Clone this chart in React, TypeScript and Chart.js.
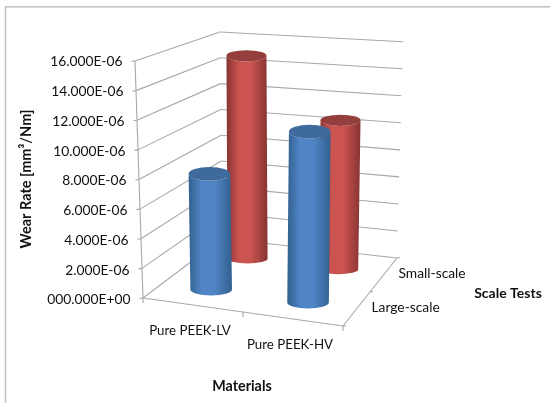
import React, { useEffect, useRef } from "react";
import { Chart, registerables } from "chart.js";

Chart.register(...registerables);

const materials = ["Pure PEEK-LV", "Pure PEEK-HV"];
const scaleTests = ["Large-scale", "Small-scale"];
const largeScale = [8.0e-6, 11.6e-6];
const smallScale = [15.0e-6, 10.8e-6];
const tickLabels = [
  "000.000E+00", "2.000E-06", "4.000E-06", "6.000E-06", "8.000E-06",
  "10.000E-06", "12.000E-06", "14.000E-06", "16.000E-06",
];
const yTitle = "Wear Rate [mm\u00B3/Nm]";
const xTitle = "Materials";
const zTitle = "Scale Tests";

const FONT = "Lato, Carlito, sans-serif";
type P = [number, number];
const lerp = (a: number, b: number, t: number) => a + (b - a) * t;
const lp = (a: P, b: P, t: number): P => [lerp(a[0], b[0], t), lerp(a[1], b[1], t)];
// box corners on the page: f=front, b=back, l=left, r=right
const FLB: P = [143, 298], FRB: P = [343, 326], BRB: P = [397, 258], BLB: P = [222, 238.5];
const FLT: P = [135, 61], FRT: P = [348, 81], BRT: P = [403, 41.7], BLT: P = [220, 32];
const proj = (u: number, v: number, w: number): P => {
  const bot = lp(lp(FLB, FRB, u), lp(BLB, BRB, u), w);
  const top = lp(lp(FLT, FRT, u), lp(BLT, BRT, u), w);
  return lp(bot, top, v);
};

const shades: Record<string, { edge: string; mid: string; top: string }> = {
  "#4F81BD": { edge: "#32608f", mid: "#5085c5", top: "#3f6a9c" },
  "#C0504D": { edge: "#863432", mid: "#cb5350", top: "#943f3d" },
};

function line(ctx: CanvasRenderingContext2D, a: P, b: P) {
  ctx.beginPath();
  ctx.moveTo(a[0], a[1]);
  ctx.lineTo(b[0], b[1]);
  ctx.stroke();
}

function text(ctx: CanvasRenderingContext2D, s: string, x: number, y: number, font: string, align: CanvasTextAlign, rot = 0) {
  ctx.save();
  ctx.translate(x, y);
  ctx.rotate(rot);
  ctx.font = font;
  ctx.fillStyle = "#111111";
  ctx.textAlign = align;
  ctx.textBaseline = "middle";
  ctx.fillText(s, 0, 0);
  ctx.restore();
}

function cylinder(ctx: CanvasRenderingContext2D, u: number, w: number, v: number, color: string) {
  const s = shades[color];
  const base = proj(u, 0, w);
  const top = proj(u, v, w);
  const rx = lerp(21.2, 19.6, w);
  const ryB = lerp(6.5, 4, w);
  const ryT = lerp(7.5, 5, w);
  ctx.beginPath();
  ctx.ellipse(base[0], base[1], rx, ryB, 0, 0, Math.PI);
  ctx.lineTo(top[0] - rx, top[1]);
  ctx.ellipse(top[0], top[1], rx, ryT, 0, Math.PI, 0, true);
  ctx.closePath();
  const g = ctx.createLinearGradient(Math.min(base[0], top[0]) - rx, 0, Math.max(base[0], top[0]) + rx, 0);
  g.addColorStop(0, s.edge);
  g.addColorStop(0.3, s.mid);
  g.addColorStop(0.6, s.mid);
  g.addColorStop(1, s.edge);
  ctx.fillStyle = g;
  ctx.fill();
  ctx.beginPath();
  ctx.ellipse(top[0], top[1], rx, ryT, 0, 0, Math.PI * 2);
  ctx.fillStyle = s.top;
  ctx.fill();
}

const scene = {
  id: "scene3d",
  beforeDatasetsDraw(chart: any) {
    const { ctx, scales } = chart;
    const y = scales.y;
    const frac = (val: number) => (y.bottom - y.getPixelForValue(val)) / (y.bottom - y.top);
    ctx.save();

    // chart frame
    ctx.strokeStyle = "#c2c2c2";
    ctx.lineWidth = 1.6;
    ctx.strokeRect(5.5, 6.8, 600, 500);

    // walls and floor
    ctx.strokeStyle = "#a8a8a8";
    ctx.lineWidth = 1.1;
    y.ticks.forEach((t: any) => {
      const v = frac(t.value);
      line(ctx, proj(0, v, 0), proj(0, v, 1));
      line(ctx, proj(0, v, 1), proj(1, v, 1));
      const a = proj(0, v, 0);
      line(ctx, [a[0] - 3.5, a[1] + 0.5], a);
      text(ctx, t.label, a[0] - 12.5, a[1] + lerp(2, 1, v), `13.8px ${FONT}`, "right");
    });
    line(ctx, proj(0, 0, 0), proj(0, 1, 0));
    line(ctx, proj(0, 0, 0), proj(1, 0, 0));
    line(ctx, proj(1, 0, 0), proj(1, 0, 1));
    [0, 0.5, 1].forEach((u) => {
      const a = proj(u, 0, 0);
      line(ctx, a, [a[0], a[1] + 5]);
      const b = proj(1, 0, u);
      line(ctx, b, [b[0] + 3, b[1] + (u === 0 ? 0 : -0.5)]);
    });

    // bars: back row first
    [1, 0].forEach((di) => {
      const ds = chart.data.datasets[di];
      const w = (di + 0.5) / scaleTests.length;
      ds.data.forEach((val: number, i: number) => {
        cylinder(ctx, (i + 0.5) / materials.length, w, frac(val), ds.backgroundColor);
      });
    });

    // category labels
    materials.forEach((m, i) => {
      const a = proj((i + 0.5) / materials.length, 0, 0);
      text(ctx, m, a[0] - 3, a[1] + 26, `13.3px ${FONT}`, "center");
    });
    scaleTests.forEach((m, i) => {
      const a = proj(1, 0, (i + 0.5) / scaleTests.length);
      text(ctx, m, a[0] + 15, a[1] - 1, `13.8px ${FONT}`, "left");
    });

    // titles
    text(ctx, yTitle, 26, 179, `bold 14.5px ${FONT}`, "center", -Math.PI / 2);
    text(ctx, xTitle, 242, 386, `bold 14.3px ${FONT}`, "center");
    text(ctx, zTitle, 508, 293, `bold 14px ${FONT}`, "center");

    ctx.restore();
    return false;
  },
};

export default function App() {
  const ref = useRef<HTMLCanvasElement | null>(null);
  useEffect(() => {
    document.body.style.margin = "0";
    document.body.style.background = "#fff";
    const chart = new Chart(ref.current as HTMLCanvasElement, {
      type: "bar",
      data: {
        labels: materials,
        datasets: [
          { label: scaleTests[0], data: largeScale, backgroundColor: "#4F81BD" },
          { label: scaleTests[1], data: smallScale, backgroundColor: "#C0504D" },
        ],
      },
      options: {
        responsive: false,
        animation: false,
        plugins: { legend: { display: false }, tooltip: { enabled: false } },
        scales: {
          x: { display: false },
          y: {
            display: false,
            min: 0,
            max: 16e-6,
            ticks: { stepSize: 2e-6, callback: (_v: any, i: number) => tickLabels[i] },
          },
        },
      },
      plugins: [scene],
    } as any);
    return () => chart.destroy();
  }, []);
  return <canvas ref={ref} width={550} height={403} style={{ display: "block" }} />;
}
